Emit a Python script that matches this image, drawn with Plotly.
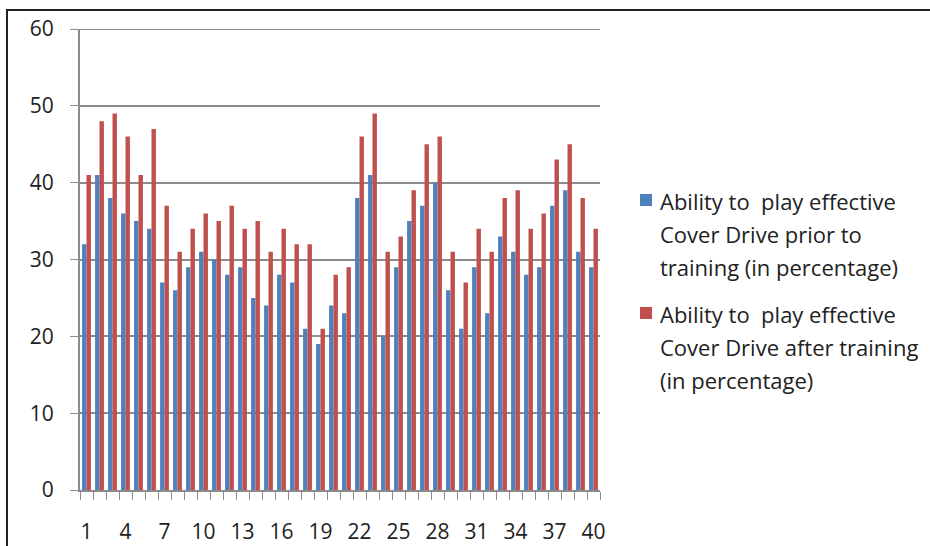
import plotly.graph_objects as go

categories = list(range(1, 41))
prior = [32, 41, 38, 36, 35, 34, 27, 26, 29, 31,
         30, 28, 29, 25, 24, 28, 27, 21, 19, 24,
         23, 38, 41, 20, 29, 35, 37, 40, 26, 21,
         29, 23, 33, 31, 28, 29, 37, 39, 31, 29]
after = [41, 48, 49, 46, 41, 47, 37, 31, 34, 36,
         35, 37, 34, 35, 31, 34, 32, 32, 21, 28,
         29, 46, 49, 31, 33, 39, 45, 46, 31, 27,
         34, 31, 38, 39, 34, 36, 43, 45, 38, 34]
x_tick_labels = [1, 4, 7, 10, 13, 16, 19, 22, 25, 28, 31, 34, 37, 40]
legend_prior = ["Ability to  play effective", "Cover Drive prior to", "training (in percentage)"]
legend_after = ["Ability to  play effective", "Cover Drive after training", "(in percentage)"]
colors = ["#4F81BD", "#C0504D"]

FONT = "'Open Sans', 'Noto Sans', sans-serif"
TEXT = "#222"
GRID = "#8c8c8c"

# plot area in pixels
L, R, T, B = 80, 600, 29, 490
W, H = R - L, B - T


def px_x(x):
    return (x - L) / W


def px_y(y):
    return (B - y) / H


fig = go.Figure()
fig.add_trace(go.Bar(x=categories, y=prior, name=" ".join(legend_prior),
                     marker=dict(color=colors[0], line=dict(width=0)), showlegend=False))
fig.add_trace(go.Bar(x=categories, y=after, name=" ".join(legend_after),
                     marker=dict(color=colors[1], line=dict(width=0)), showlegend=False))

shapes = [
    # top gridline at 60
    dict(type="line", xref="paper", yref="y", x0=0, x1=1, y0=60, y1=60,
         line=dict(color=GRID, width=2), layer="below"),
    # outer frame
    dict(type="line", xref="paper", yref="paper", x0=px_x(6), x1=px_x(940),
         y0=px_y(10), y1=px_y(10), line=dict(color="#222", width=2)),
    dict(type="line", xref="paper", yref="paper", x0=px_x(7), x1=px_x(7),
         y0=px_y(9), y1=px_y(560), line=dict(color="#222", width=2)),
]
annotations = []
entries = [(legend_prior, 200), (legend_after, 313)]
for (lines, y0), col in zip(entries, colors):
    shapes.append(dict(type="rect", xref="paper", yref="paper",
                       x0=px_x(640), x1=px_x(652), y0=px_y(y0 - 6), y1=px_y(y0 + 6),
                       fillcolor=col, line=dict(width=0)))
    for i, line in enumerate(lines):
        annotations.append(dict(xref="paper", yref="paper", x=px_x(658),
                                y=px_y(y0 + 1 + 33 * i), xanchor="left", yanchor="middle",
                                text=line, showarrow=False,
                                font=dict(family=FONT, size=22, color=TEXT)))

fig.update_layout(
    width=930, height=546,
    margin=dict(l=L, r=930 - R, t=T, b=546 - B, autoexpand=False),
    paper_bgcolor="white", plot_bgcolor="white",
    barmode="group", bargap=0.32, bargroupgap=0.0,
    font=dict(family=FONT, size=21, color=TEXT),
    showlegend=False,
    xaxis=dict(range=[0.5, 40.5], tickmode="array", tickvals=x_tick_labels,
               ticktext=[str(v) for v in x_tick_labels], ticks="",
               showgrid=False, showline=True, linecolor=GRID, linewidth=2,
               tickfont=dict(size=21, color=TEXT), ticklabelstandoff=22, automargin=False,
               minor=dict(tick0=0.5, dtick=1, ticks="outside", ticklen=8,
                          tickcolor=GRID, tickwidth=1, showgrid=False)),
    yaxis=dict(range=[0, 60], dtick=10, showgrid=True, gridcolor=GRID,
               gridwidth=2, showline=True, linecolor=GRID, linewidth=2,
               ticks="outside", ticklen=8, tickcolor=GRID, zeroline=False,
               tickfont=dict(size=21, color=TEXT), ticklabelstandoff=12, automargin=False),
    shapes=shapes,
    annotations=annotations,
)

fig.write_html("out.html", config={"displayModeBar": False},
               post_script="document.body.style.margin='0';document.body.style.padding='0';")
